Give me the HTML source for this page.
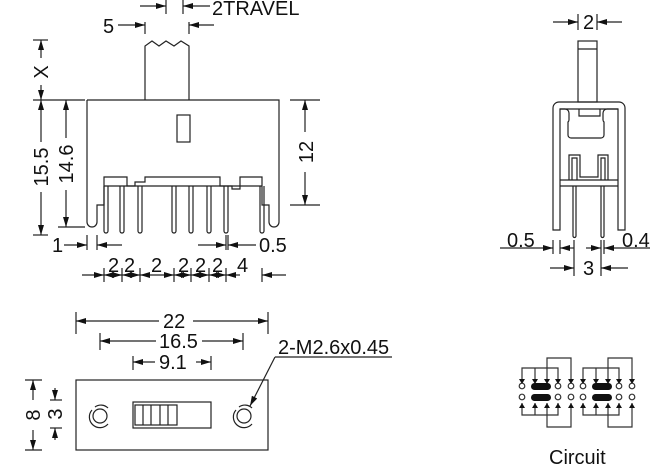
<!DOCTYPE html>
<html><head><meta charset="utf-8"><style>
html,body{margin:0;padding:0;background:#fff}
svg{display:block}
text{font-family:"Liberation Sans",Arial,sans-serif;font-size:20px;fill:#111}
</style></head><body>
<svg width="655" height="465" viewBox="0 0 655 465" xmlns="http://www.w3.org/2000/svg">
<defs>
<marker id="a" viewBox="0 0 10 6" refX="10" refY="3" markerWidth="11" markerHeight="6" orient="auto-start-reverse" markerUnits="userSpaceOnUse"><path d="M0,0 L10,3 L0,6z" fill="#111"/></marker>
</defs>
<g fill="none" stroke="#222" stroke-width="1.2">
<!-- FRONT VIEW -->
<path d="M145,100 V46 L152,41 L159,46 L166,41 L174,46 L181,41 L189,46 V100"/>
<path d="M87,100 H279 V222 a5,5 0 0 1 -10,0 V205 H262 V186"/>
<path d="M87,100 V222 a5,5 0 0 0 10,0 V205 H104 V186"/>
<rect x="177" y="115" width="13" height="27"/>
<path d="M104,186 V177 H127 V186 H135 V182 H145 V177 H220 V186 H232 V189 H240 V177 H262 V186"/>
<line x1="104" y1="186" x2="262" y2="186"/>
<g>
<path d="M104,186 V231 a2,2 0 0 0 4,0 V186"/>
<path d="M120,186 V231 a2,2 0 0 0 4,0 V186"/>
<path d="M138,186 V231 a2,2 0 0 0 4,0 V186"/>
<path d="M172,186 V231 a2,2 0 0 0 4,0 V186"/>
<path d="M189,186 V231 a2,2 0 0 0 4,0 V186"/>
<path d="M207,186 V231 a2,2 0 0 0 4,0 V186"/>
<path d="M224,186 V231 a2,2 0 0 0 4,0 V186"/>
<path d="M260,186 V231 a2,2 0 0 0 4,0 V186"/>
</g>
<!-- dims front -->
<line x1="145" y1="22" x2="145" y2="34"/><line x1="189" y1="22" x2="189" y2="34"/>
<line x1="166" y1="0" x2="166" y2="14"/><line x1="183" y1="0" x2="183" y2="14"/>
<line x1="118" y1="25" x2="145" y2="25" marker-end="url(#a)"/>
<line x1="214" y1="25" x2="189" y2="25" marker-end="url(#a)"/>
<line x1="140" y1="6" x2="166" y2="6" marker-end="url(#a)"/>
<line x1="210" y1="6" x2="183" y2="6" marker-end="url(#a)"/>
<line x1="33" y1="40" x2="48" y2="40"/><line x1="33" y1="100" x2="85" y2="100"/>
<line x1="33" y1="235" x2="48" y2="235"/><line x1="58" y1="227" x2="85" y2="227"/>
<line x1="41" y1="58" x2="41" y2="40" marker-end="url(#a)"/>
<line x1="41" y1="85" x2="41" y2="100" marker-end="url(#a)"/>
<line x1="41" y1="142" x2="41" y2="100" marker-end="url(#a)"/>
<line x1="41" y1="192" x2="41" y2="235" marker-end="url(#a)"/>
<line x1="66" y1="138" x2="66" y2="100" marker-end="url(#a)"/>
<line x1="66" y1="190" x2="66" y2="227" marker-end="url(#a)"/>
<line x1="290" y1="100" x2="320" y2="100"/><line x1="290" y1="205" x2="320" y2="205"/>
<line x1="305" y1="132" x2="305" y2="100" marker-end="url(#a)"/>
<line x1="305" y1="172" x2="305" y2="205" marker-end="url(#a)"/>
<line x1="87" y1="235" x2="87" y2="250"/><line x1="97" y1="235" x2="97" y2="250"/>
<line x1="64" y1="245" x2="87" y2="245" marker-end="url(#a)"/>
<line x1="122" y1="245" x2="97" y2="245" marker-end="url(#a)"/>
<line x1="226" y1="235" x2="226" y2="250"/><line x1="228" y1="235" x2="228" y2="250"/>
<line x1="198" y1="245" x2="226" y2="245" marker-end="url(#a)"/>
<line x1="256" y1="245" x2="228" y2="245" marker-end="url(#a)"/>
<line x1="82" y1="275" x2="104" y2="275" marker-end="url(#a)"/>
<path d="M104,268V282M122,268V282M140,268V282M174,268V282M191,268V282M209,268V282M226,268V282M262,268V282"/>
<line x1="104" y1="275" x2="122" y2="275" marker-start="url(#a)" marker-end="url(#a)"/>
<line x1="122" y1="275" x2="140" y2="275" marker-start="url(#a)" marker-end="url(#a)"/>
<line x1="140" y1="275" x2="174" y2="275" marker-start="url(#a)" marker-end="url(#a)"/>
<line x1="174" y1="275" x2="191" y2="275" marker-start="url(#a)" marker-end="url(#a)"/>
<line x1="191" y1="275" x2="209" y2="275" marker-start="url(#a)" marker-end="url(#a)"/>
<line x1="209" y1="275" x2="226" y2="275" marker-start="url(#a)" marker-end="url(#a)"/>
<line x1="226" y1="275" x2="240" y2="275" marker-start="url(#a)"/>
<line x1="286" y1="275" x2="262" y2="275" marker-end="url(#a)"/>

<!-- SIDE VIEW -->
<rect x="578" y="41" width="19" height="61"/><line x1="578" y1="49" x2="597" y2="49"/>
<path d="M553,230 V108 a6,6 0 0 1 6,-6 H619 a6,6 0 0 1 6,6 V230 H618 V109 H560 V230 Z"/>
<path d="M560,109 H565 a4,4 0 0 1 4,4 V120 a3,3 0 0 1 -1,2 V135 a3,3 0 0 0 3,3 H601 a3,3 0 0 0 3,-3 V122 a3,3 0 0 1 -1,-2 V113 a4,4 0 0 1 4,-4 H618"/>
<path d="M579,109 V116 H600 V109"/>
<path d="M569,180 V155 H580 V177 H598 V155 H608 V180"/>
<path d="M572,180 V158 H577 V180 M601,180 V158 H605 V180"/>
<line x1="560" y1="180" x2="618" y2="180"/><line x1="560" y1="186" x2="618" y2="186"/>
<path d="M573,186 V236 a1.5,1.5 0 0 0 3,0 V186 M601,186 V236 a1.5,1.5 0 0 0 3,0 V186"/>
<line x1="578" y1="14" x2="578" y2="30"/><line x1="597" y1="14" x2="597" y2="30"/>
<line x1="553" y1="22" x2="578" y2="22" marker-end="url(#a)"/>
<line x1="622" y1="22" x2="597" y2="22" marker-end="url(#a)"/>
<line x1="500" y1="248" x2="553" y2="248" marker-end="url(#a)"/>
<line x1="553" y1="240" x2="553" y2="254"/><line x1="560" y1="240" x2="560" y2="254"/>
<line x1="574" y1="248" x2="560" y2="248" marker-end="url(#a)"/>
<line x1="586" y1="248" x2="601" y2="248" marker-end="url(#a)"/>
<line x1="601" y1="240" x2="601" y2="276"/><line x1="604" y1="240" x2="604" y2="254"/>
<line x1="650" y1="248" x2="604" y2="248" marker-end="url(#a)"/>
<line x1="574" y1="240" x2="574" y2="276"/>
<line x1="550" y1="268" x2="574" y2="268" marker-end="url(#a)"/>
<line x1="628" y1="268" x2="601" y2="268" marker-end="url(#a)"/>

<!-- BOTTOM VIEW -->
<rect x="76" y="380" width="192" height="70"/>
<circle cx="100" cy="416" r="7"/><path d="M92,410 A10,10 0 0 0 108,424"/><path d="M108,408 A10,10 0 0 0 95,407"/>
<circle cx="244" cy="416" r="7"/><path d="M236,410 A10,10 0 0 0 252,424"/><path d="M252,408 A10,10 0 0 0 239,407"/>
<rect x="133" y="402" width="78" height="26"/>
<rect x="135" y="405" width="42" height="20"/>
<path d="M143,405V425M151,405V425M160,405V425M168,405V425"/>
<line x1="76" y1="312" x2="76" y2="334"/><line x1="268" y1="312" x2="268" y2="334"/>
<line x1="159" y1="321" x2="76" y2="321" marker-end="url(#a)"/>
<line x1="193" y1="321" x2="268" y2="321" marker-end="url(#a)"/>
<line x1="100" y1="333" x2="100" y2="350"/><line x1="243" y1="333" x2="243" y2="350"/>
<line x1="156" y1="341" x2="100" y2="341" marker-end="url(#a)"/>
<line x1="202" y1="341" x2="243" y2="341" marker-end="url(#a)"/>
<line x1="133" y1="356" x2="133" y2="370"/><line x1="211" y1="356" x2="211" y2="370"/>
<line x1="155" y1="362" x2="133" y2="362" marker-end="url(#a)"/>
<line x1="196" y1="362" x2="211" y2="362" marker-end="url(#a)"/>
<line x1="275" y1="357" x2="392" y2="357"/>
<line x1="275" y1="357" x2="250" y2="406" marker-end="url(#a)"/>
<line x1="25" y1="380" x2="42" y2="380"/><line x1="25" y1="450" x2="42" y2="450"/>
<line x1="33" y1="400" x2="33" y2="380" marker-end="url(#a)"/>
<line x1="33" y1="430" x2="33" y2="450" marker-end="url(#a)"/>
<line x1="50" y1="400" x2="62" y2="400"/><line x1="50" y1="428" x2="62" y2="428"/>
<line x1="55" y1="388" x2="55" y2="400" marker-end="url(#a)"/>
<line x1="55" y1="440" x2="55" y2="428" marker-end="url(#a)"/>
</g>

<!-- CIRCUIT -->
<g stroke="#333" stroke-width="1.2" fill="none">
<g id="cg">
<path d="M522,379 V368 H558 V379 M535,379 V368 M547,379 V358 H571 V379"/>
<path d="M522,403 V415 H558 V403 M535,403 V415 M547,403 V427 H571 V403"/>
<g fill="#fff"><circle cx="522" cy="386" r="2.8"/><circle cx="558" cy="386" r="2.8"/><circle cx="571" cy="386" r="2.8"/>
<circle cx="522" cy="397" r="2.8"/><circle cx="558" cy="397" r="2.8"/><circle cx="571" cy="397" r="2.8"/></g>
<g fill="#111" stroke="none">
<path d="M519,379h6l-3,5z M532,379h6l-3,5z M544,379h6l-3,5z M555,379h6l-3,5z M568,379h6l-3,5z"/>
<path d="M519,408h6l-3,-5z M532,408h6l-3,-5z M544,408h6l-3,-5z M555,408h6l-3,-5z M568,408h6l-3,-5z"/>
<rect x="531" y="383" width="20" height="7" rx="3.5"/><rect x="531" y="394" width="20" height="7" rx="3.5"/>
</g>
</g>
<use href="#cg" transform="translate(61,0)"/>
</g>

<!-- TEXT -->
<text x="212" y="15">2TRAVEL</text>
<text x="103" y="33">5</text>
<text transform="translate(48,72) rotate(-90)" text-anchor="middle">X</text>
<text transform="translate(48,167) rotate(-90)" text-anchor="middle">15.5</text>
<text transform="translate(73,164) rotate(-90)" text-anchor="middle">14.6</text>
<text transform="translate(313,152) rotate(-90)" text-anchor="middle">12</text>
<text x="52" y="252">1</text>
<text x="259" y="252">0.5</text>
<text x="108" y="272">2</text><text x="124" y="272">2</text><text x="151" y="272">2</text><text x="178" y="272">2</text><text x="195" y="272">2</text><text x="212" y="272">2</text><text x="237" y="272">4</text>
<text x="583" y="29">2</text>
<text x="507" y="247">0.5</text>
<text x="622" y="247">0.4</text>
<text x="583" y="275">3</text>
<text x="163" y="328">22</text>
<text x="159" y="348">16.5</text>
<text x="159" y="369">9.1</text>
<text x="278" y="354">2-M2.6x0.45</text>
<text transform="translate(40,415) rotate(-90)" text-anchor="middle">8</text>
<text transform="translate(62,414) rotate(-90)" text-anchor="middle">3</text>
<text x="549" y="464">Circuit</text>
</svg>
</body></html>
